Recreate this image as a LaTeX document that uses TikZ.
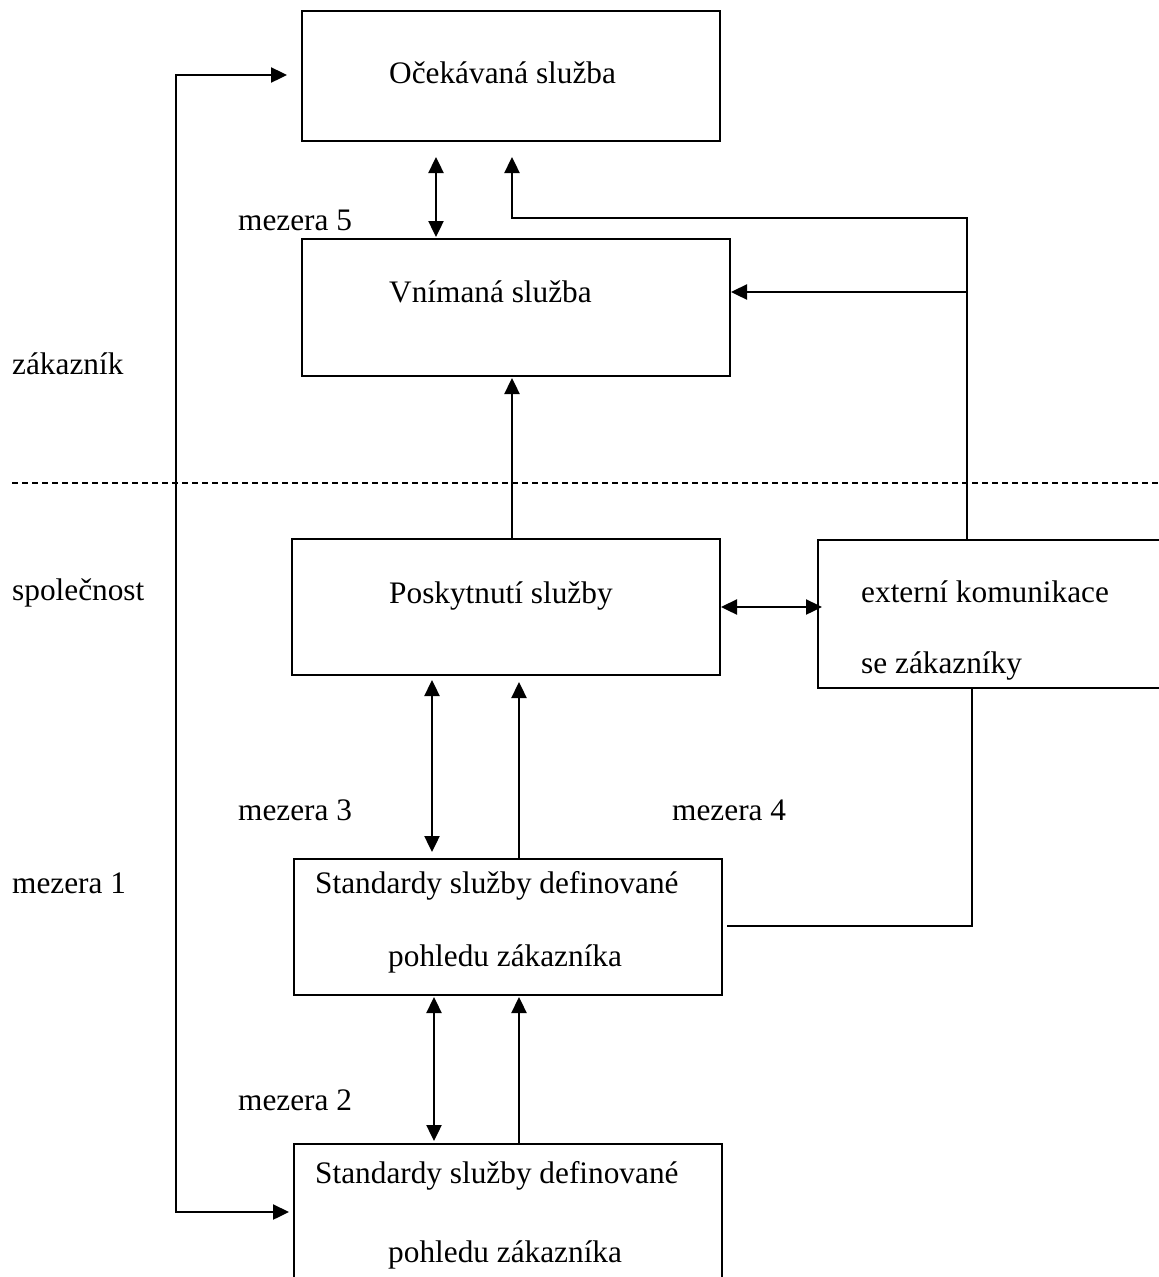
\documentclass[tikz,border=0pt]{standalone}
\usepackage{fontspec}
\setmainfont{Liberation Serif}
\usetikzlibrary{arrows.meta,calc}
\begin{document}
\begin{tikzpicture}[x=1pt,y=-1pt,
  box/.style={draw, line width=2.2pt, outer sep=0pt, inner sep=0pt},
  txt/.style={inner sep=0pt, anchor=base west, font=\fontsize{31.3}{37}\selectfont},
  arr/.style={line width=2.4pt, -{Triangle[length=16pt,width=15pt]}},
  dbl/.style={line width=2.4pt, {Triangle[length=16pt,width=15pt]}-{Triangle[length=16pt,width=15pt]}},
  plain/.style={line width=2.2pt},
  sep/.style={line width=2pt, dash pattern=on 6pt off 4pt}]
\clip (0,0) rectangle (1159,1277);
\fill[white] (0,0) rectangle (1159,1277);

% boxes
\node[box, minimum width=418pt, minimum height=130pt] (b1) at (511,76) {};
\node[box, minimum width=428pt, minimum height=137pt] (b2) at (516,307.5) {};
\node[box, minimum width=428pt, minimum height=136pt] (b3) at (506,607) {};
\node[box, minimum width=382pt, minimum height=148pt] (ext) at (1009,614) {};
\node[box, minimum width=428pt, minimum height=136pt] (b4) at (508,927) {};
\node[box, minimum width=428pt, minimum height=200pt] (b5) at (508,1244) {};

% box texts
\node[txt] (t1) at (389,83) {Očekávaná služba};
\node[txt] (t2) at (389,302) {Vnímaná služba};
\node[txt] (t3) at (389,603) {Poskytnutí služby};
\node[txt] (t4a) at (861,602) {externí komunikace};
\node[txt] (t4b) at (861,673) {se zákazníky};
\node[txt] (t5a) at (315,893) {Standardy služby definované};
\node[txt] (t5b) at (388,966) {pohledu zákazníka};
\node[txt] (t6a) at (315,1183) {Standardy služby definované};
\node[txt] (t6b) at (388,1262) {pohledu zákazníka};

% side labels
\node[txt] (lz) at (12,374) {zákazník};
\node[txt] (ls) at (12,600) {společnost};
\node[txt] (m1) at (12,893) {mezera 1};
\node[txt] (m5) at (238,230) {mezera 5};
\node[txt] (m3) at (238,820) {mezera 3};
\node[txt] (m4) at (672,820) {mezera 4};
\node[txt] (m2) at (238,1110) {mezera 2};

% separator
\draw[sep] (12,483) -- (1159,483);

% helper coordinates
\coordinate (j1) at (967,218);
\coordinate (j2) at (967,292);
\coordinate (j3) at (972,926);
\coordinate (l1) at (176,75);
\coordinate (l2) at (176,1212);

% connectors
\draw[dbl, shorten <=16pt, shorten >=2pt] ([xshift=-75pt]b1.south) -- ([xshift=-75pt]b1.south |- b2.north);
\draw[arr, shorten >=16pt] (ext.north -| j1) -- (j1) -| ([xshift=1pt]b1.south);
\draw[arr, shorten >=1pt] (j2) -- (b2.east |- j2);
\draw[arr, shorten >=2pt] ([xshift=6pt]b3.north) -- ([xshift=6pt]b3.north |- b2.south);
\draw[dbl, shorten <=1pt, shorten >=-4pt] (b3.east) -- (b3.east -| ext.west);
\draw[dbl, shorten <=5pt, shorten >=7pt] ([xshift=-74pt]b3.south) -- ([xshift=-74pt]b3.south |- b4.north);
\draw[arr, shorten >=7pt] ([xshift=11pt]b4.north) -- ([xshift=11pt]b4.north |- b3.south);
\draw[plain] ([xshift=5pt]b4.east |- j3) -- (j3) -- (j3 |- ext.south);
\draw[dbl, shorten <=2pt, shorten >=3pt] ([xshift=-74pt]b4.south) -- ([xshift=-74pt]b4.south |- b5.north);
\draw[arr, shorten >=2pt] ([xshift=11pt]b5.north) -- ([xshift=11pt]b5.north |- b4.south);
\draw[dbl, shorten <=15pt, shorten >=5pt] (b1.west |- l1) -- (l1) -- (l2) -- (b5.west |- l2);
\end{tikzpicture}
\end{document}
